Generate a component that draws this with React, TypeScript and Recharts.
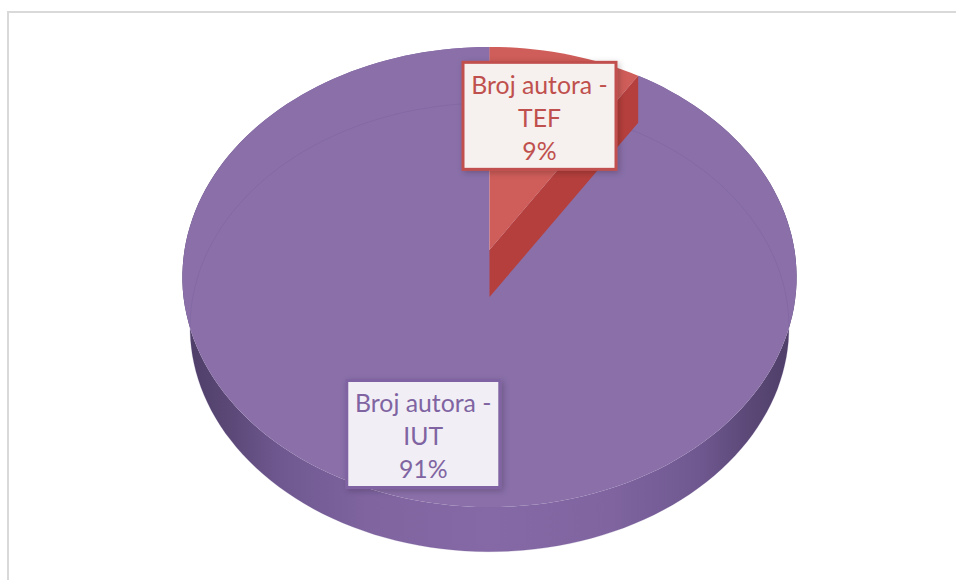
import { Pie, PieChart } from "recharts";

const categories = ["Broj autora - TEF", "Broj autora - IUT"];
const values = [9, 91];
const labelLines = [
  ["Broj autora -", "TEF", "9%"],
  ["Broj autora -", "IUT", "91%"],
];

const tableData = categories.map((name, i) => ({ name, value: values[i] }));

const TOP_COLORS = ["#cf5d59", "#8a6fa9"];
const WALL_COLORS = ["#b53f3c", "url(#rimFill)"];
const LABEL_COLORS = ["#c0504d", "#8064a2"];
const LABEL_FILLS = ["#f6f0ef", "#f1eff5"];
const LABEL_NUDGE = [
  [-2, -1],
  [-1, 17],
];

// the pie is photographed in perspective, so the far half is squeezed
const PERSPECTIVE = 0.1174;
const SQUASH = 0.744;
const CUT_DEPTH = 47;
const BASE_DEPTH = 51;
const BASE_SCALE = 0.975; // the underside sits further from the camera
const BOX_W = 153;
const BOX_H = 107;

function project(cx: number, cy: number, r: number, angle: number) {
  const phi = ((90 - angle) * Math.PI) / 180;
  const w = 1 + PERSPECTIVE * Math.cos(phi);
  return {
    x: cx + (r * Math.sin(phi)) / w,
    y: cy - (r * SQUASH * Math.cos(phi)) / w,
  };
}

function arcPoints(cx: number, cy: number, r: number, start: number, end: number) {
  const steps = Math.max(2, Math.ceil(Math.abs(start - end) / 2));
  const pts = [];
  for (let i = 0; i <= steps; i++) {
    pts.push(project(cx, cy, r, start + ((end - start) * i) / steps));
  }
  return pts;
}

const toPath = (pts: { x: number; y: number }[]) =>
  "M" + pts.map((p) => `${p.x.toFixed(1)},${p.y.toFixed(1)}`).join("L") + "Z";

function sliceIndex(props: any) {
  return categories.indexOf(props.name ?? props.payload?.name);
}

// one shape per drawing layer, a layer only paints the slice it belongs to
function makeShape(layer: string) {
  return (props: any) => {
    const { cx, cy, outerRadius: r, startAngle, endAngle } = props;
    const idx = sliceIndex(props);
    if (layer === "rim" && idx === 1) {
      const lower = arcPoints(cx, cy + BASE_DEPTH, r * BASE_SCALE, startAngle, endAngle);
      const upper = arcPoints(cx, cy, r, endAngle, startAngle);
      return <path d={toPath([...lower, ...upper])} fill={WALL_COLORS[1]} />;
    }
    if (layer === "top" && idx === 1) {
      const face = [{ x: cx, y: cy }, ...arcPoints(cx, cy, r, startAngle, endAngle)];
      const ghost = arcPoints(cx, cy + BASE_DEPTH, r * BASE_SCALE, startAngle, endAngle);
      return (
        <g>
          <path d={toPath(face)} fill={TOP_COLORS[1]} />
          <path d={toPath(ghost)} fill="none" stroke="#6f5890" strokeOpacity={0.22} />
        </g>
      );
    }
    if (layer === "cut" && idx === 0) {
      const endUp = project(cx, cy, r, endAngle);
      const endDown = project(cx, cy + CUT_DEPTH, r, endAngle);
      return (
        <path
          d={toPath([{ x: cx, y: cy }, { x: cx, y: cy + CUT_DEPTH }, endDown, endUp])}
          fill={WALL_COLORS[0]}
        />
      );
    }
    if (layer === "face" && idx === 0) {
      const face = [{ x: cx, y: cy }, ...arcPoints(cx, cy, r, startAngle, endAngle)];
      return <path d={toPath(face)} fill={TOP_COLORS[0]} />;
    }
    return <g />;
  };
}

function CalloutLabel(props: any) {
  const { cx, cy, outerRadius, midAngle } = props;
  const idx = sliceIndex(props);
  const p = project(cx, cy, outerRadius * 0.68, midAngle);
  const mx = p.x + LABEL_NUDGE[idx][0];
  const my = p.y + LABEL_NUDGE[idx][1];
  return (
    <g>
      <rect
        x={mx - BOX_W / 2}
        y={my - BOX_H / 2}
        width={BOX_W}
        height={BOX_H}
        fill={LABEL_FILLS[idx]}
        stroke={LABEL_COLORS[idx]}
        strokeWidth={3}
        filter="url(#boxShadow)"
      />
      {labelLines[idx].map((line, i) => (
        <text
          key={line}
          x={mx}
          y={my + 1.5 + (i - 1) * 33}
          textAnchor="middle"
          dominantBaseline="central"
          fontFamily="Lato, 'Open Sans', sans-serif"
          fontSize={24.8}
          fill={LABEL_COLORS[idx]}
        >
          {line}
        </text>
      ))}
    </g>
  );
}

const LAYERS = ["rim", "top", "cut", "face"];

export default function App() {
  return (
    <div style={{ position: "absolute", left: 0, top: 0, width: 956, height: 580, background: "#fff", overflow: "hidden" }}>
      <div
        style={{
          position: "absolute",
          left: 7,
          top: 11,
          right: 0,
          bottom: 0,
          borderLeft: "2px solid #d9d9d9",
          borderTop: "2px solid #d9d9d9",
        }}
      />
      <div style={{ position: "absolute", left: 0, top: 0 }}>
        <PieChart width={956} height={580} margin={{ top: 0, right: 0, bottom: 0, left: 0 }}>
          <defs>
            <linearGradient id="rimFill" x1="0" y1="0" x2="1" y2="0">
              <stop offset="0%" stopColor="#4d3d66" />
              <stop offset="7%" stopColor="#5a4775" />
              <stop offset="16%" stopColor="#6f5890" />
              <stop offset="30%" stopColor="#7f64a0" />
              <stop offset="50%" stopColor="#8569a6" />
              <stop offset="70%" stopColor="#7f64a0" />
              <stop offset="84%" stopColor="#6f5890" />
              <stop offset="93%" stopColor="#5a4775" />
              <stop offset="100%" stopColor="#4d3d66" />
            </linearGradient>
            <filter id="boxShadow" x="-10%" y="-10%" width="125%" height="125%">
              <feDropShadow dx="2" dy="2" stdDeviation="3" floodColor="#000" floodOpacity="0.22" />
            </filter>
          </defs>
          {LAYERS.map((layer) => (
            <Pie
              key={layer}
              data={tableData}
              dataKey="value"
              nameKey="name"
              cx={489.5}
              cy={250}
              outerRadius={305}
              startAngle={90}
              endAngle={-270}
              stroke="none"
              shape={makeShape(layer)}
              label={layer === "face" ? CalloutLabel : false}
              labelLine={false}
              isAnimationActive={false}
            />
          ))}
        </PieChart>
      </div>
    </div>
  );
}
